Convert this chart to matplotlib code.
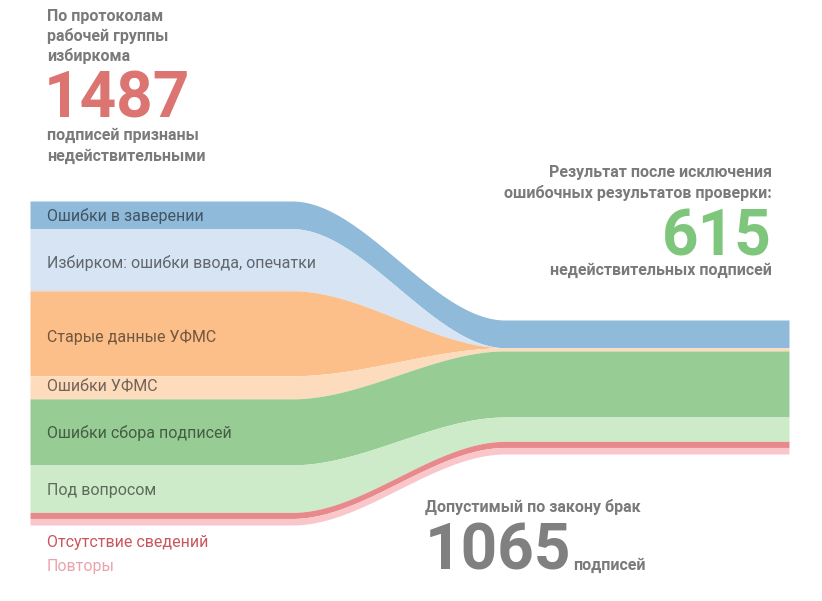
import numpy as np
import matplotlib.pyplot as plt

plt.rcParams['font.family'] = ['Roboto', 'DejaVu Sans']

# signatures per category: by the commission protocols (left) and after re-check (right)
categories = ["Ошибки в заверении", "Избирком: ошибки ввода, опечатки",
              "Старые данные УФМС", "Ошибки УФМС", "Ошибки сбора подписей",
              "Под вопросом", "Отсутствие сведений", "Повторы"]
before = [127, 285, 390, 106, 303, 218, 28, 30]
after = [127, 0, 0, 15, 303, 112, 28, 30]
band_colors = ["#8fbad9", "#d6e4f3", "#fcbf8a", "#fddcbd",
               "#97cd95", "#cdebc9", "#e8898c", "#f9c6c9"]

total_before = 1487
total_after = 615
allowed = 1065

# layout in pixels
W, H = 822, 601
k = 324 / total_before          # px per signature
x_left, x_bend0, x_bend1, x_right = 30, 292, 505, 789
top_left, top_right = 201, 320
label_y = [216, 263, 337, 386, 433, 491, 543, 567]

fig = plt.figure(figsize=(W / 100, H / 100), dpi=100)
ax = fig.add_axes([0, 0, 1, 1])
ax.set_xlim(0, W)
ax.set_ylim(H, 0)
ax.axis("off")

x = np.linspace(x_left, x_right, 900)
t = np.clip((x - x_bend0) / (x_bend1 - x_bend0), 0, 1)
s = t * t * (3 - 2 * t)

cb = np.concatenate([[0], np.cumsum(before)])
ca = np.concatenate([[0], np.cumsum(after)])
for i, c in enumerate(band_colors):
    y0 = top_left + cb[i] * k + (top_right + ca[i] * k - top_left - cb[i] * k) * s
    y1 = top_left + cb[i + 1] * k + (top_right + ca[i + 1] * k - top_left - cb[i + 1] * k) * s
    ax.fill_between(x, y0, y1, color=c, lw=0)

# labels inside the bands
for i in range(6):
    ax.text(47, label_y[i], categories[i], fontsize=11.5, color="black", alpha=0.55,
            va="center", ha="left")
ax.text(47, label_y[6], categories[6], fontsize=11.5, color="#c9555d", va="center")
ax.text(47, label_y[7], categories[7], fontsize=11.5, color="#eaa3ad", va="center")

gray = "#7a7a7a"
hdr = dict(fontsize=11.5, color=gray, fontweight="bold", va="center")
big = dict(fontsize=46, fontweight="bold", va="baseline")

# top-left block
for yy, s_ in zip([16, 36, 56], ["По протоколам", "рабочей группы", "избиркома"]):
    ax.text(47, yy, s_, **hdr)
ax.text(44, 118, str(total_before), color="#dc7471", **big)
ax.text(47, 135, "подписей признаны", **hdr)
ax.text(47, 156, "недействительными", **hdr)

# right block
ax.text(772, 172, "Результат после исключения", ha="right", **hdr)
ax.text(772, 193, "ошибочных результатов проверки:", ha="right", **hdr)
ax.text(772, 256, str(total_after), color="#7ec67c", ha="right", **big)
ax.text(772, 270, "недействительных подписей", ha="right", **hdr)

# bottom block
ax.text(425, 507, "Допустимый по закону брак", **hdr)
ax.text(425, 570, str(allowed), color="#808080", **big)
ax.text(573, 565, "подписей", **hdr)

fig.savefig("out.png", dpi=100)
